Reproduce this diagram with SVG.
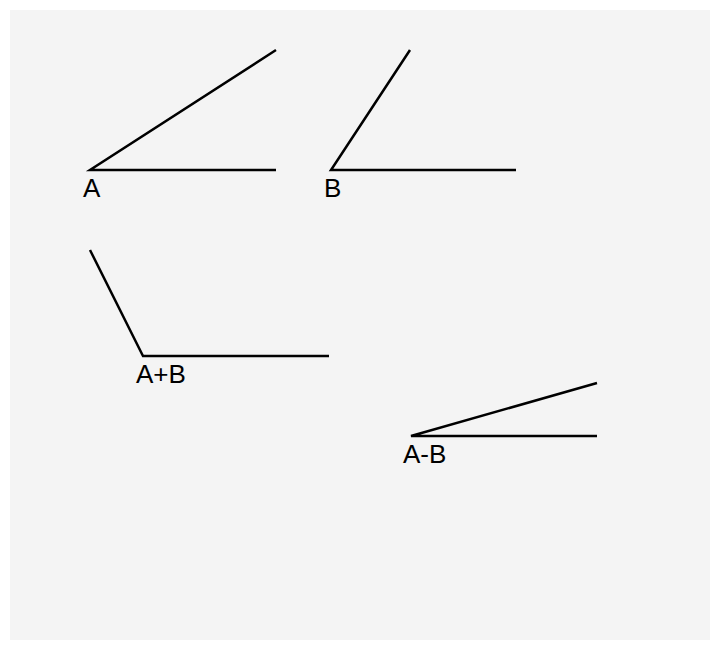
<svg xmlns="http://www.w3.org/2000/svg" width="720" height="650" viewBox="0 0 720 650">
<style>
.ln{stroke:#000;stroke-width:2.5;fill:none;stroke-linecap:butt}
.lb{font-family:"Liberation Sans",Arial,sans-serif;font-size:26px;fill:#000}
</style>
<rect x="0" y="0" width="720" height="650" fill="#ffffff"/>
<rect x="10" y="10" width="700" height="630" fill="#f4f4f4"/>
<g id="connectors">
<polyline class="ln" points="276,50 90,170 276,170"/>
<polyline class="ln" points="410,50 331,170 516,170"/>
<polyline class="ln" points="90,250 143,356 329,356"/>
<polyline class="ln" points="597,383 411,436 597,436"/>
</g>
<g id="angleA"><text class="lb" x="83" y="197">A</text></g>
<g id="angleB"><text class="lb" x="324" y="197">B</text></g>
<g id="angleAplusB"><text class="lb" x="136" y="383">A+B</text></g>
<g id="angleAminusB"><text class="lb" x="403" y="463">A-B</text></g>
</svg>
